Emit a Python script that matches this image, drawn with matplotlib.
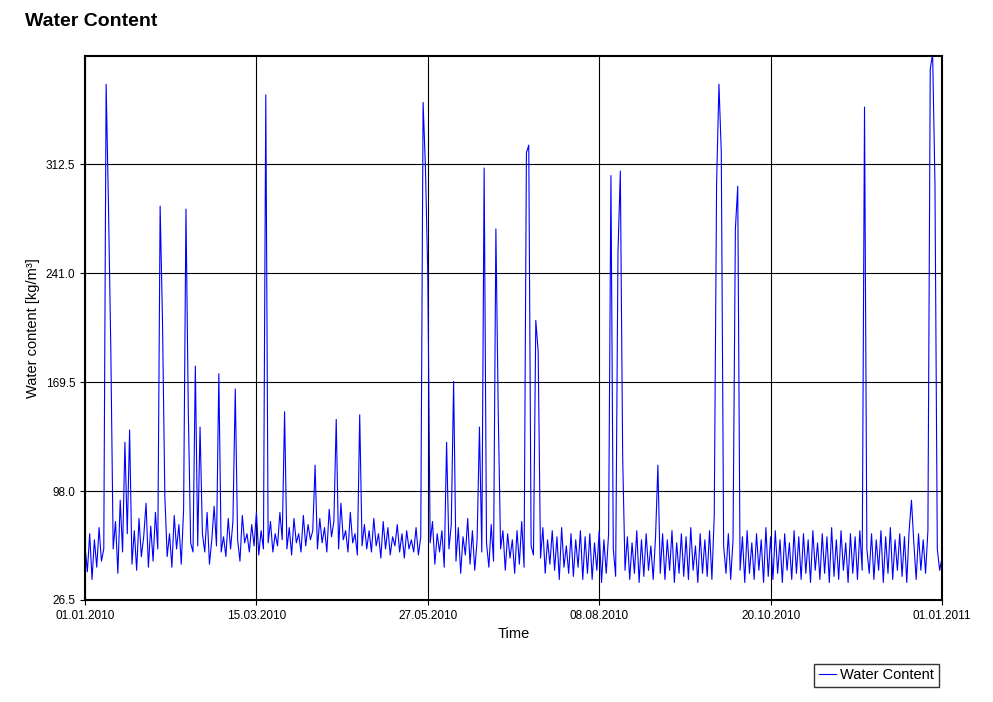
import matplotlib
matplotlib.use("Agg")
import matplotlib.pyplot as plt
import pandas as pd

plt.rcParams['font.family'] = ['Liberation Sans', 'DejaVu Sans']

start_date = "2010-01-01"
values = [
 # Jan
 62,45,70,40,66,48,74,52,60,365,285,190,60,78,44,92,58,130,70,138,50,72,46,80,55,68,90,48,75,52,84,
 # Feb
 60,285,210,95,55,70,48,82,60,76,50,86,283,150,64,58,180,62,140,70,58,84,50,66,88,62,175,58,68,
 # Mar
 55,80,60,78,165,66,52,82,64,70,58,76,62,84,56,72,60,358,64,78,58,70,62,84,66,150,60,74,56,80,64,
 # Apr
 70,58,82,62,76,66,72,115,60,80,64,74,58,86,68,78,145,60,90,66,72,58,84,64,70,56,148,62,76,60,
 # May
 72,58,80,62,70,54,78,60,74,56,68,62,76,58,70,54,72,60,66,58,74,56,68,353,310,240,64,78,50,70,58,
 # Jun
 72,48,130,60,76,170,52,74,44,68,56,80,50,72,46,66,140,58,310,64,48,76,52,270,150,60,72,46,70,54,
 # Jul
 66,44,72,50,78,48,320,325,62,56,210,190,54,74,44,66,50,72,46,68,40,74,48,62,44,70,42,66,48,72,40,
 # Aug
 68,44,70,40,64,46,72,38,66,44,70,305,60,42,255,308,120,46,68,40,64,44,72,38,66,42,70,46,62,40,68,
 # Sep
 115,44,70,40,66,46,72,38,64,44,70,42,68,40,74,46,62,38,70,44,66,42,72,40,82,300,365,320,62,44,
 # Oct
 70,40,66,270,298,46,68,38,72,44,64,40,70,46,66,38,74,42,68,40,72,44,66,38,70,46,64,40,72,44,68,
 # Nov
 40,70,44,66,38,72,46,64,40,70,44,68,38,74,42,66,40,72,46,64,38,70,44,68,40,72,46,350,60,44,
 # Dec
 70,40,66,46,72,38,68,44,74,40,66,46,70,42,68,38,72,92,64,40,70,46,66,44,72,375,385,300,60,46,54,
]

dates = pd.date_range(start_date, periods=len(values), freq="D")

fig = plt.figure(figsize=(9.93, 7.02), dpi=100)
ax = fig.add_axes([85/993, 1-600/702, (942-85)/993, (600-56)/702])
line, = ax.plot(dates, values, color="#0000ff", lw=0.8, label="Water Content")
ax.set_ylim(26.5, 383.5)
ax.set_yticks([26.5, 98.0, 169.5, 241.0, 312.5])
ax.set_yticklabels(["26.5", "98.0", "169.5", "241.0", "312.5"], fontsize=8.5)
ticks = pd.to_datetime(["2010-01-01", "2010-03-15", "2010-05-27", "2010-08-08", "2010-10-20", "2011-01-01"])
ax.set_xlim(ticks[0], ticks[-1])
ax.set_xticks(ticks)
ax.set_xticklabels([t.strftime("%d.%m.%Y") for t in ticks], fontsize=8.5)
ax.grid(True, color="black", lw=0.8)
for s in ax.spines.values():
    s.set_linewidth(1.5)
ax.set_xlabel("Time", fontsize=10.5)
ax.set_ylabel("Water content [kg/m³]", fontsize=10.5)
fig.text(25/993, 1-22/702, "Water Content", fontsize=14, fontweight="bold", va="center")
fig.legend(handles=[line], loc="lower right", bbox_to_anchor=(946/993, 1-694/702),
           fontsize=10.5, frameon=True, fancybox=False, edgecolor="black",
           handlelength=1.2, borderpad=0.3, handletextpad=0.3)
fig.savefig("out.png", dpi=100)
